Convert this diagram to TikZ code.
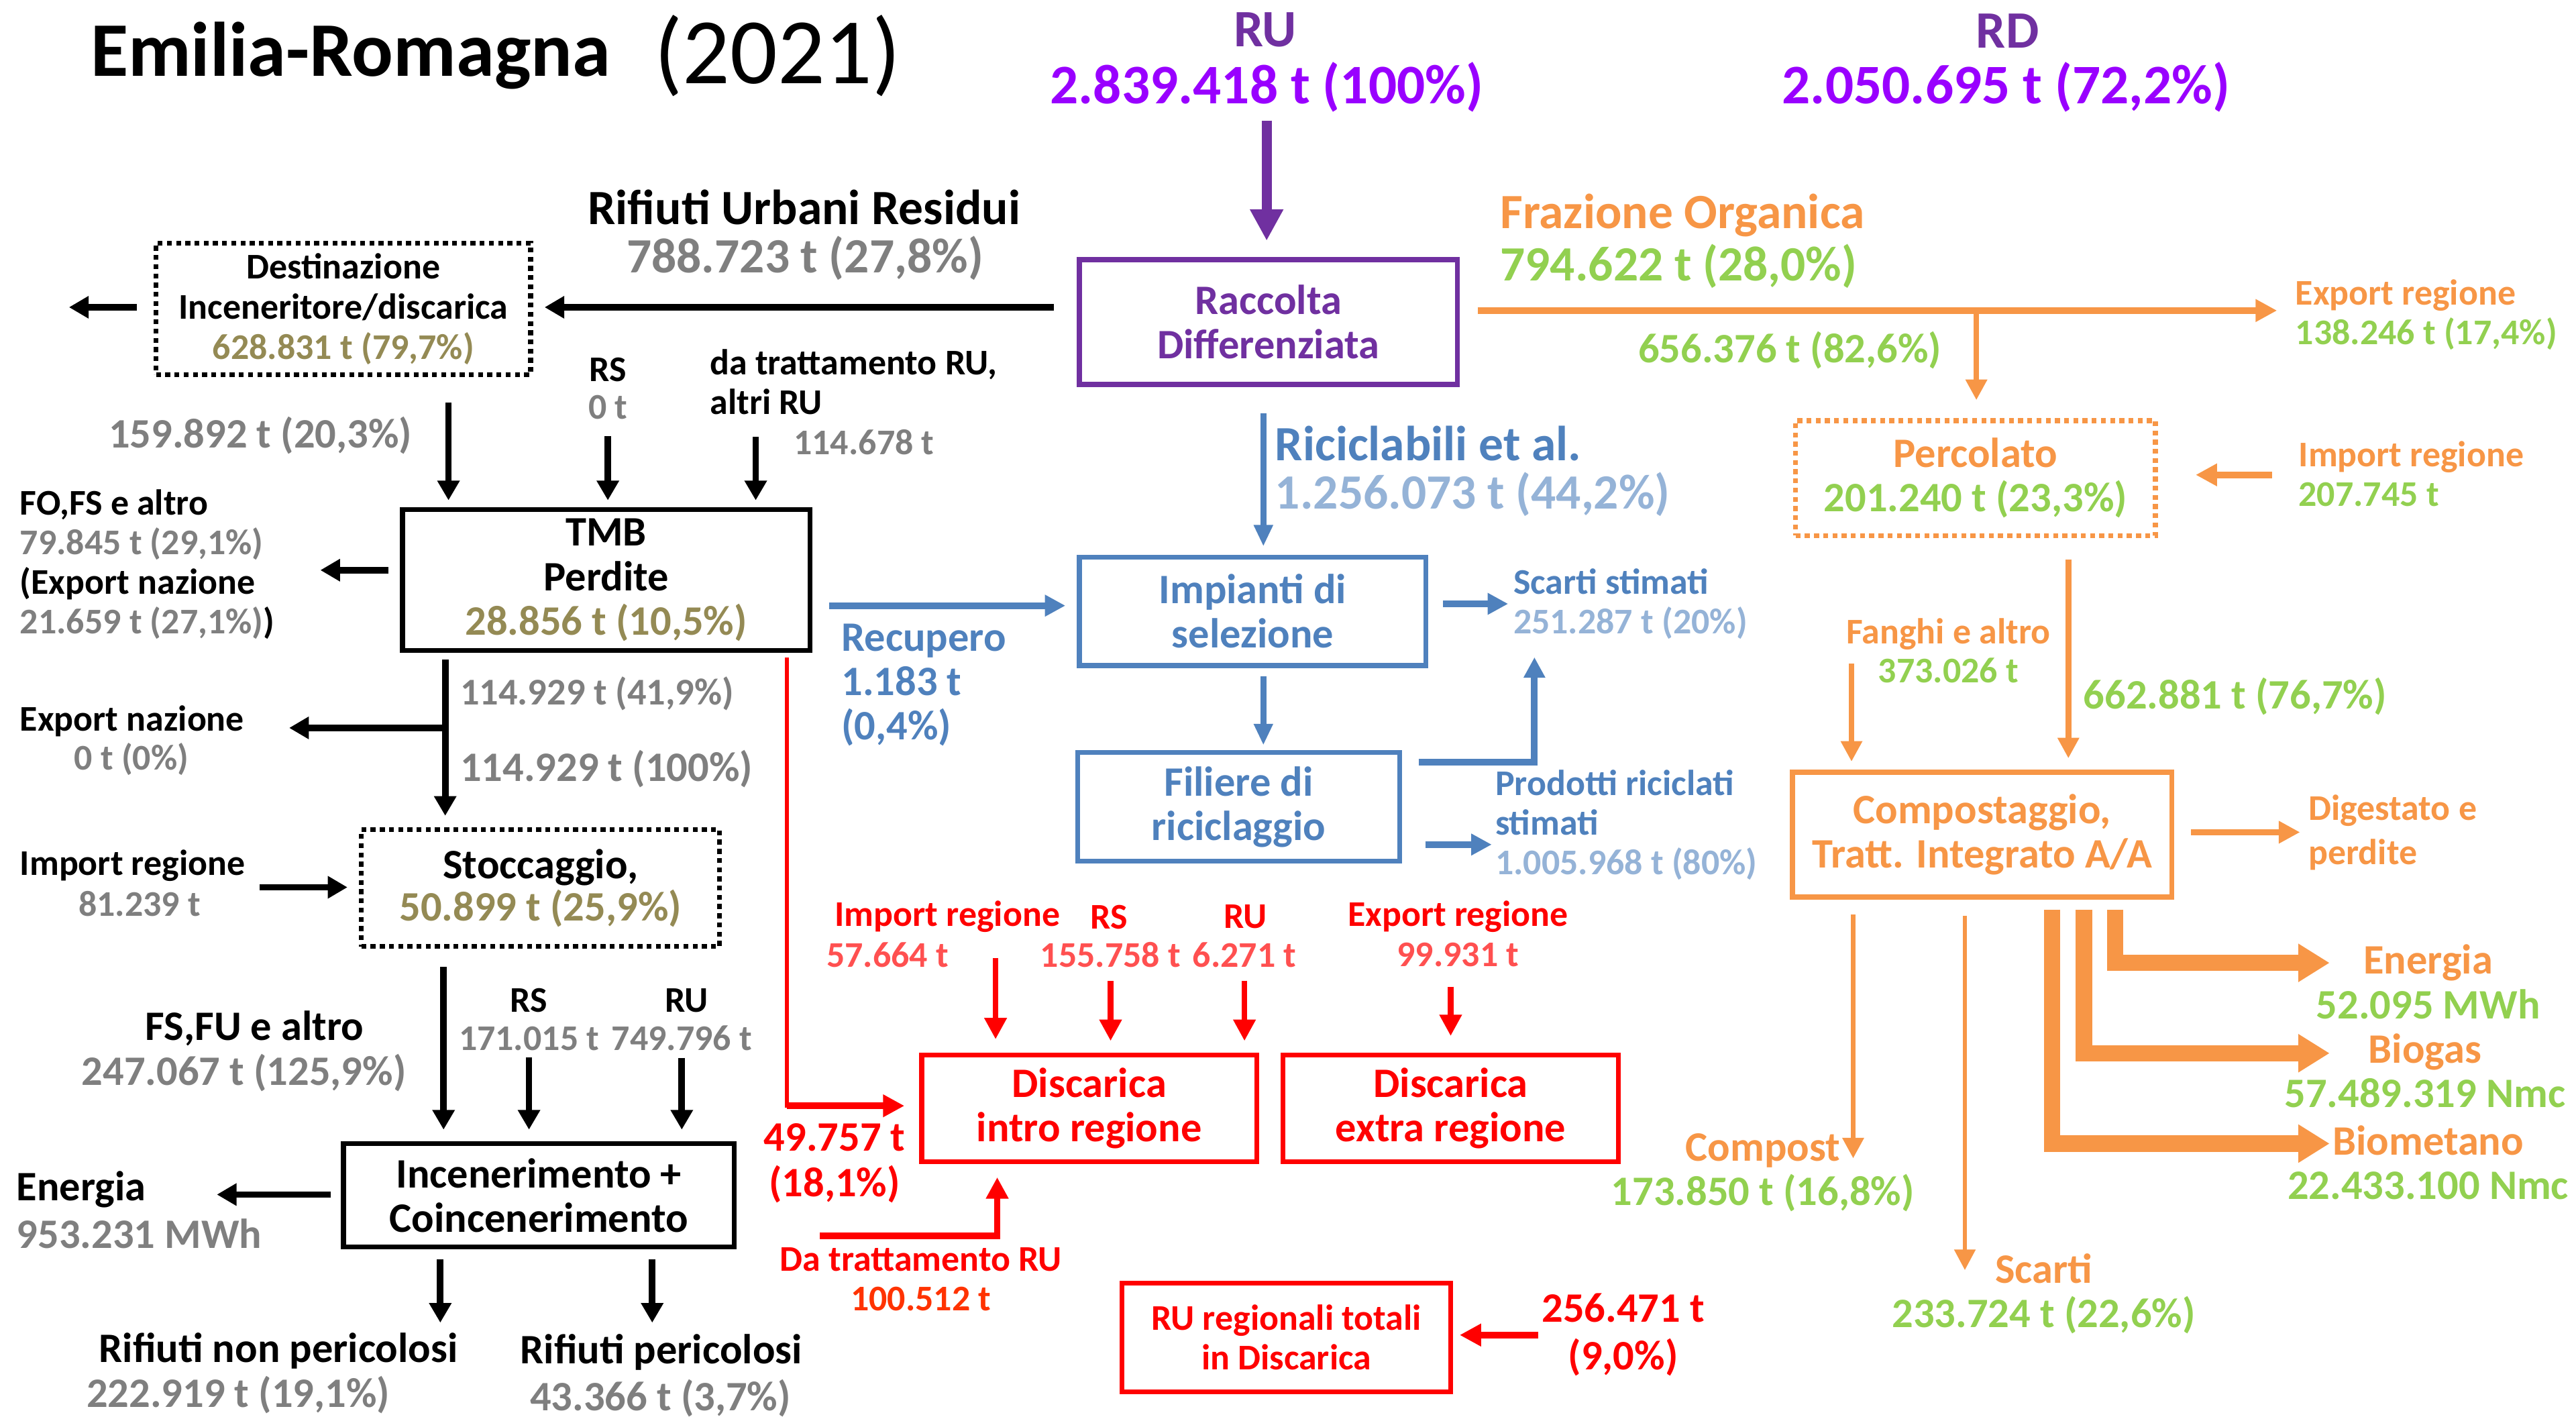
\documentclass[tikz,border=0pt]{standalone}
\usepackage{fontspec}
\setmainfont{Carlito}
\usetikzlibrary{arrows.meta}
\definecolor{rdpurple}{HTML}{7030A0}
\definecolor{rupurple}{HTML}{9900FF}
\definecolor{numgray}{HTML}{7F7F7F}
\definecolor{olivetxt}{HTML}{948A54}
\definecolor{rblue}{HTML}{4F81BD}
\definecolor{rblueL}{HTML}{95B3D7}
\definecolor{forange}{HTML}{F79646}
\definecolor{fgreen}{HTML}{92D050}
\definecolor{dred}{HTML}{FF0000}
\definecolor{dredL}{HTML}{FF5050}
\definecolor{dredO}{HTML}{FF3300}
\newcommand\fsTitle{\fontsize{47}{50}\selectfont}
\newcommand\fsYear{\fontsize{57}{60}\selectfont}
\newcommand\fsHead{\fontsize{32}{34}\selectfont}
\newcommand\fsNum{\fontsize{34}{36}\selectfont}
\newcommand\fsBig{\fontsize{30}{31}\selectfont}
\newcommand\fsBox{\fontsize{25.5}{27}\selectfont}
\newcommand\fsSml{\fontsize{22}{24}\selectfont}
\begin{document}
\begin{tikzpicture}[x=1pt,y=-1pt,
 bx/.style={draw,line width=3pt,inner sep=0pt,align=center,font=\fsBox\bfseries},
 dbx/.style={bx,dash pattern=on 3pt off 2.6pt},
 lb/.style={inner sep=0pt,align=center,font=\fsBox\bfseries},
 lbs/.style={lb,font=\fsSml\bfseries},
 arrK/.style={-{Triangle[width=13pt,length=12pt]},line width=4pt},
 arrP/.style={-{Triangle[width=19pt,length=19pt]},line width=6pt,draw=rdpurple},
 arrB/.style={-{Triangle[width=12.5pt,length=12.5pt]},line width=4pt,draw=rblue},
 arrBt/.style={-{Triangle[width=11pt,length=13pt]},line width=3.5pt,draw=rblue},
 arrO/.style={-{Triangle[width=13pt,length=13pt]},line width=4pt,draw=forange},
 arrOt/.style={-{Triangle[width=12.5pt,length=12.5pt]},line width=3.5pt,draw=forange},
 fatO/.style={-{Triangle[width=22pt,length=19pt]},line width=10pt,draw=forange,line join=miter},
 arrR/.style={-{Triangle[width=13pt,length=13pt]},line width=3.5pt,draw=dred}]
\useasboundingbox (0,0) rectangle (1568,862);
% title and totals
\node[anchor=west,inner sep=0pt,font=\fsTitle\bfseries] (title) at (55,34) {Emilia-Romagna};
\node[anchor=west,inner sep=0pt,font=\fsYear] (year) at (398,34) {(2021)};
\node[lb,font=\fsHead\bfseries,text=rdpurple] (ru) at (770,18) {RU};
\node[lb,font=\fsNum\bfseries,text=rupurple] (ruNum) at (771,53) {2.839.418 t (100\%)};
\node[lb,font=\fsHead\bfseries,text=rdpurple] (rd) at (1222,19) {RD};
\node[lb,font=\fsNum\bfseries,text=rupurple] (rdNum) at (1221,53) {2.050.695 t (72,2\%)};
% boxes
\node[bx,draw=rdpurple,text=rdpurple,minimum width=230pt,minimum height=76pt] (racc) at (772,196) {Raccolta\\Differenziata};
\node[dbx,minimum width=228pt,minimum height=80pt,font=\fontsize{22}{24.5}\selectfont\bfseries] (dest) at (209,188) {Destinazione\\Inceneritore/discarica\\\textcolor{olivetxt}{628.831 t (79,7\%)}};
\node[bx,minimum width=248pt,minimum height=86pt] (tmb) at (369,353) {TMB\\Perdite\\\textcolor{olivetxt}{28.856 t (10,5\%)}};
\node[dbx,minimum width=218pt,minimum height=71pt,font=\fontsize{25.5}{26}\selectfont\bfseries] (stoc) at (329,540.5) {Stoccaggio,\\\textcolor{olivetxt}{50.899 t (25,9\%)}};
\node[bx,minimum width=238pt,minimum height=63pt] (inc) at (328,727.5) {Incenerimento +\\Coincenerimento};
\node[bx,draw=rblue,text=rblue,minimum width=211pt,minimum height=66pt] (imp) at (762.5,372) {Impianti di\\selezione};
\node[bx,draw=rblue,text=rblue,minimum width=196pt,minimum height=66pt] (fil) at (754,491) {Filiere di\\riciclaggio};
\node[dbx,draw=forange,text=forange,minimum width=219pt,minimum height=70pt] (perc) at (1202.5,291) {Percolato\\\textcolor{fgreen}{201.240 t (23,3\%)}};
\node[bx,draw=forange,text=forange,minimum width=231pt,minimum height=76pt] (comp) at (1206.5,508) {Compostaggio,\\Tratt. Integrato A/A};
\node[bx,draw=dred,text=dred,minimum width=204pt,minimum height=65pt] (disIn) at (663,674.5) {Discarica\\intro regione};
\node[bx,draw=dred,text=dred,minimum width=204pt,minimum height=65pt] (disEx) at (883,674.5) {Discarica\\extra regione};
\node[bx,draw=dred,text=dred,minimum width=200pt,minimum height=66pt,font=\fsSml\bfseries] (ruTot) at (783,814) {RU regionali totali\\in Discarica};
% labels, residual side
\node[lb,font=\fsBig\bfseries] (rur) at (489.5,126) {Rifiuti Urbani Residui};
\node[lb,font=\fsBig\bfseries,text=numgray] (rur0) at (490,157) {788.723 t (27,8\%)};
\node[lb,text=numgray] (n159) at (158.5,265) {159.892 t (20,3\%)};
\node[lbs] (rs) at (370,225) {RS};
\node[lbs,text=numgray] (rs0) at (370,248) {0 t};
\node[lbs,anchor=west,align=left] (da) at (432,232.5) {da trattamento RU,\\altri RU};
\node[lbs,anchor=west,text=numgray] (da0) at (483,269) {114.678 t};
\node[lbs,anchor=west,align=left] (fofs) at (12,343.5) {FO,FS e altro\\\textcolor{numgray}{79.845 t (29,1\%)}\\(Export nazione\\\textcolor{numgray}{21.659 t (27,1\%)})};
\node[lbs,anchor=west,text=numgray,font=\fontsize{23}{24}\selectfont\bfseries] (n41) at (280,422) {114.929 t (41,9\%)};
\node[lb,anchor=west,text=numgray] (n100) at (280,468) {114.929 t (100\%)};
\node[lbs,anchor=west] (expNaz) at (12,439) {Export nazione};
\node[lbs,text=numgray] (expNaz0) at (80,462) {0 t (0\%)};
\node[lbs,anchor=west] (impReg) at (12,527) {Import regione};
\node[lbs,text=numgray] (impReg0) at (85,550) {81.239 t};
\node[lb] (fsfu) at (155,626) {FS,FU e altro};
\node[lb,text=numgray] (fsfu0) at (148.5,653) {247.067 t (125,9\%)};
\node[lbs] (rsB) at (322,609) {RS};
\node[lbs,text=numgray] (rsB2) at (322,632) {171.015 t};
\node[lbs] (ruB) at (418,609) {RU};
\node[lbs,text=numgray] (ruB2) at (415,632) {749.796 t};
\node[lb,anchor=west] (ener) at (10,724) {Energia};
\node[lb,anchor=west,text=numgray] (ener0) at (10,751) {953.231 MWh};
\node[lb] (rnp) at (169.5,822) {Rifiuti non pericolosi};
\node[lb,text=numgray] (rnp0) at (145,849) {222.919 t (19,1\%)};
\node[lb] (rp) at (402.5,823) {Rifiuti pericolosi};
\node[lb,text=numgray] (rp0) at (402,851) {43.366 t (3,7\%)};
% labels, recyclables
\node[lb,font=\fsBig\bfseries,text=rblue,anchor=west] (ric) at (776,270) {Riciclabili et al.};
\node[lb,font=\fsBig\bfseries,text=rblueL,anchor=west] (ric0) at (776,301) {1.256.073 t (44,2\%)};
\node[lb,anchor=west,align=left,text=rblue] (recup) at (512,417) {Recupero\\1.183 t\\(0,4\%)};
\node[lbs,anchor=west,align=left,text=rblue] (scarti) at (921,367.5) {Scarti stimati\\\textcolor{rblueL}{251.287 t (20\%)}};
\node[lbs,anchor=west,align=left,text=rblue] (prod) at (910,502) {Prodotti riciclati\\stimati\\\textcolor{rblueL}{1.005.968 t (80\%)}};
% labels, organic fraction
\node[lb,font=\fsBig\bfseries,text=forange,anchor=west] (fo) at (913,131) {Frazione Organica};
\node[lb,font=\fsBig\bfseries,text=fgreen,anchor=west] (fo0) at (913,162) {794.622 t (28,0\%)};
\node[lbs,anchor=west,align=left,text=forange] (expOr) at (1397,191.5) {Export regione\\\textcolor{fgreen}{138.246 t (17,4\%)}};
\node[lb,text=fgreen] (n656) at (1089.5,213) {656.376 t (82,6\%)};
\node[lbs,anchor=west,align=left,text=forange] (impOr) at (1399,288.5) {Import regione\\\textcolor{fgreen}{207.745 t}};
\node[lbs,text=forange] (fang) at (1186,396) {Fanghi e altro\\\textcolor{fgreen}{373.026 t}};
\node[lb,anchor=west,text=fgreen] (n662) at (1268,424) {662.881 t (76,7\%)};
\node[lbs,anchor=west,align=left,text=forange,font=\fontsize{22}{27}\selectfont\bfseries] (dig) at (1405,506.5) {Digestato e\\perdite};
\node[lb,text=forange] (enO) at (1478,597.5) {Energia\\\textcolor{fgreen}{52.095 MWh}};
\node[lb,text=forange] (bgO) at (1476,651.5) {Biogas\\\textcolor{fgreen}{57.489.319 Nmc}};
\node[lb,text=forange] (bmO) at (1478,707.5) {Biometano\\\textcolor{fgreen}{22.433.100 Nmc}};
\node[lb,text=forange] (cmpO) at (1073,713.5) {Compost\\\textcolor{fgreen}{173.850 t (16,8\%)}};
\node[lb,text=forange] (scO) at (1244,787.5) {Scarti\\\textcolor{fgreen}{233.724 t (22,6\%)}};
% labels, landfill
\node[lb,text=dred,font=\fontsize{25.5}{28}\selectfont\bfseries] (n497) at (508,708) {49.757 t\\(18,1\%)};
\node[lbs,anchor=west,text=dred] (impR) at (508,558) {Import regione};
\node[lbs,anchor=west,text=dredL] (impR2) at (503,581) {57.664 t};
\node[lbs,text=dred] (rsR) at (675,558) {RS};
\node[lbs,text=dredL] (rsR2) at (676,581) {155.758 t};
\node[lbs,text=dred] (ruR) at (758,558) {RU};
\node[lbs,text=dredL] (ruR2) at (757.5,581) {6.271 t};
\node[lbs,text=dred] (exR) at (887.5,558) {Export regione};
\node[lbs,text=dredL] (exR2) at (887.5,581) {99.931 t};
\node[lbs,text=dred] (dt) at (560.5,778.5) {Da trattamento RU\\\textcolor{dredO}{100.512 t}};
\node[lb,text=dred,font=\fontsize{25.5}{29}\selectfont\bfseries] (totNum) at (988,812.5) {256.471 t\\(9,0\%)};
% free ends
\coordinate (destOut) at (42,187);
\coordinate (destIn) at (273,245);
\coordinate (daIn) at (460,266);
\coordinate (tmbOut) at (195,347);
\coordinate (tmbJoin) at (271,443);
\coordinate (expOut) at (176,443);
\coordinate (impIn) at (158,540);
\coordinate (stocDn) at (270,0);
\coordinate (incOut) at (132,727);
\coordinate (rnpIn) at (268,805);
\coordinate (rpIn) at (397,805);
\coordinate (redCorner) at (479,673);
\coordinate (impRed) at (606,583);
\coordinate (dtStart) at (499,752);
\coordinate (dtCorner) at (607,752);
\coordinate (recY) at (0,368.6);
\coordinate (colB) at (769,0);
\coordinate (filUp) at (934,464);
\coordinate (filTop) at (934,400);
\coordinate (prodIn) at (908,514);
\coordinate (foOut) at (1386,189);
\coordinate (foJoin) at (1203,189);
\coordinate (impOrIn) at (1383,289);
\coordinate (colC) at (1259,0);
\coordinate (fangIn) at (1127,404);
\coordinate (compOut) at (1128,705);
\coordinate (scOut) at (1196,773);
\coordinate (enBend) at (1287.5,586);
\coordinate (bgBend) at (1268.5,641);
\coordinate (bmBend) at (1249,696);
\coordinate (tipX) at (1418,0);
% purple
\draw[arrP,shorten <=5pt,shorten >=10pt] (ruNum.south) -- (ruNum.south |- racc.north);
% black
\draw[arrK,shorten <=14pt,shorten >=7pt] (racc.west |- destOut) -- (dest.east |- destOut);
\draw[arrK,shorten <=10pt] (dest.west |- destOut) -- (destOut);
\draw[arrK,shorten >=4pt] (destIn) -- (destIn |- tmb.north);
\draw[arrK,shorten <=10pt,shorten >=4pt] (rs0.south) -- (rs0.south |- tmb.north);
\draw[arrK,shorten >=4pt] (daIn) -- (daIn |- tmb.north);
\draw[arrK,shorten <=7pt] (tmb.west |- tmbOut) -- (tmbOut);
\draw[arrK,shorten <=4pt,shorten >=7pt] (tmb.south -| tmbJoin) -- (stoc.north -| tmbJoin);
\draw[arrK] (tmbJoin) -- (expOut);
\draw[arrK,shorten >=7pt] (impIn) -- (stoc.west |- impIn);
\draw[arrK,shorten <=11pt,shorten >=7pt] (stoc.south -| stocDn) -- (inc.north -| stocDn);
\draw[arrK,shorten <=4pt,shorten >=7pt] (rsB2.south) -- (rsB2.south |- inc.north);
\draw[arrK,shorten <=4pt,shorten >=7pt] (ruB2.south) -- (ruB2.south |- inc.north);
\draw[arrK,shorten <=6pt] (inc.west |- incOut) -- (incOut);
\draw[arrK,shorten <=6pt] (inc.south -| rnpIn) -- (rnpIn);
\draw[arrK,shorten <=6pt] (inc.south -| rpIn) -- (rpIn);
% red
\draw[dred,line width=2.5pt,line cap=rect,shorten <=4pt] (tmb.south -| redCorner) -- (redCorner);
\draw[arrR,line width=4pt,shorten >=9pt] (redCorner) -- (disIn.west |- redCorner);
\draw[arrR,shorten >=8pt] (impRed) -- (impRed |- disIn.north);
\draw[arrR,shorten <=8pt,shorten >=7pt] (rsR2.south) -- (rsR2.south |- disIn.north);
\draw[arrR,shorten <=8pt,shorten >=7pt] (ruR2.south) -- (ruR2.south |- disIn.north);
\draw[arrR,shorten <=12pt,shorten >=10pt] (exR2.south -| disEx.north) -- (disEx.north);
\draw[arrR,line width=4pt,shorten >=8pt] (dtStart) -- (dtCorner) -- (dtCorner |- disIn.south);
\draw[arrR,line width=4pt,shorten <=2pt,shorten >=4pt] (totNum.west) -- (totNum.west -| ruTot.east);
% blue
\draw[arrB,shorten <=10pt,shorten >=7pt] (tmb.east |- recY) -- (imp.west |- recY);
\draw[arrBt,shorten <=16pt,shorten >=5pt] (racc.south -| colB) -- (imp.north -| colB);
\draw[arrBt,shorten <=5pt,shorten >=3pt] (imp.south -| colB) -- (fil.north -| colB);
\draw[arrB,shorten <=9pt,shorten >=3pt] (imp.east |- scarti.west) -- (scarti.west);
\draw[arrB,shorten <=10pt] (fil.east |- filUp) -- (filUp) -- (filTop);
\draw[arrB,shorten <=14pt] (fil.east |- prodIn) -- (prodIn);
% orange
\draw[arrO,shorten <=11pt] (racc.east |- foOut) -- (foOut);
\draw[arrOt,shorten >=11pt] (foJoin) -- (foJoin |- perc.north);
\draw[arrO,shorten >=23pt] (impOrIn) -- (perc.east |- impOrIn);
\draw[arrOt,shorten <=13pt,shorten >=7pt] (perc.south -| colC) -- (comp.north -| colC);
\draw[arrOt,shorten >=5pt] (fangIn) -- (fangIn |- comp.north);
\draw[arrO,shorten <=10pt,shorten >=5pt] (comp.east |- dig.west) -- (dig.west);
\draw[arrOt,line width=3pt,shorten <=9pt] (comp.south -| compOut) -- (compOut);
\draw[arrOt,line width=2.5pt,shorten <=10pt] (comp.south -| scOut) -- (scOut);
\draw[fatO,shorten <=6pt] (comp.south -| enBend) -- (enBend) -- (enBend -| tipX);
\draw[fatO,shorten <=6pt] (comp.south -| bgBend) -- (bgBend) -- (bgBend -| tipX);
\draw[fatO,shorten <=6pt] (comp.south -| bmBend) -- (bmBend) -- (bmBend -| tipX);
\end{tikzpicture}
\end{document}
